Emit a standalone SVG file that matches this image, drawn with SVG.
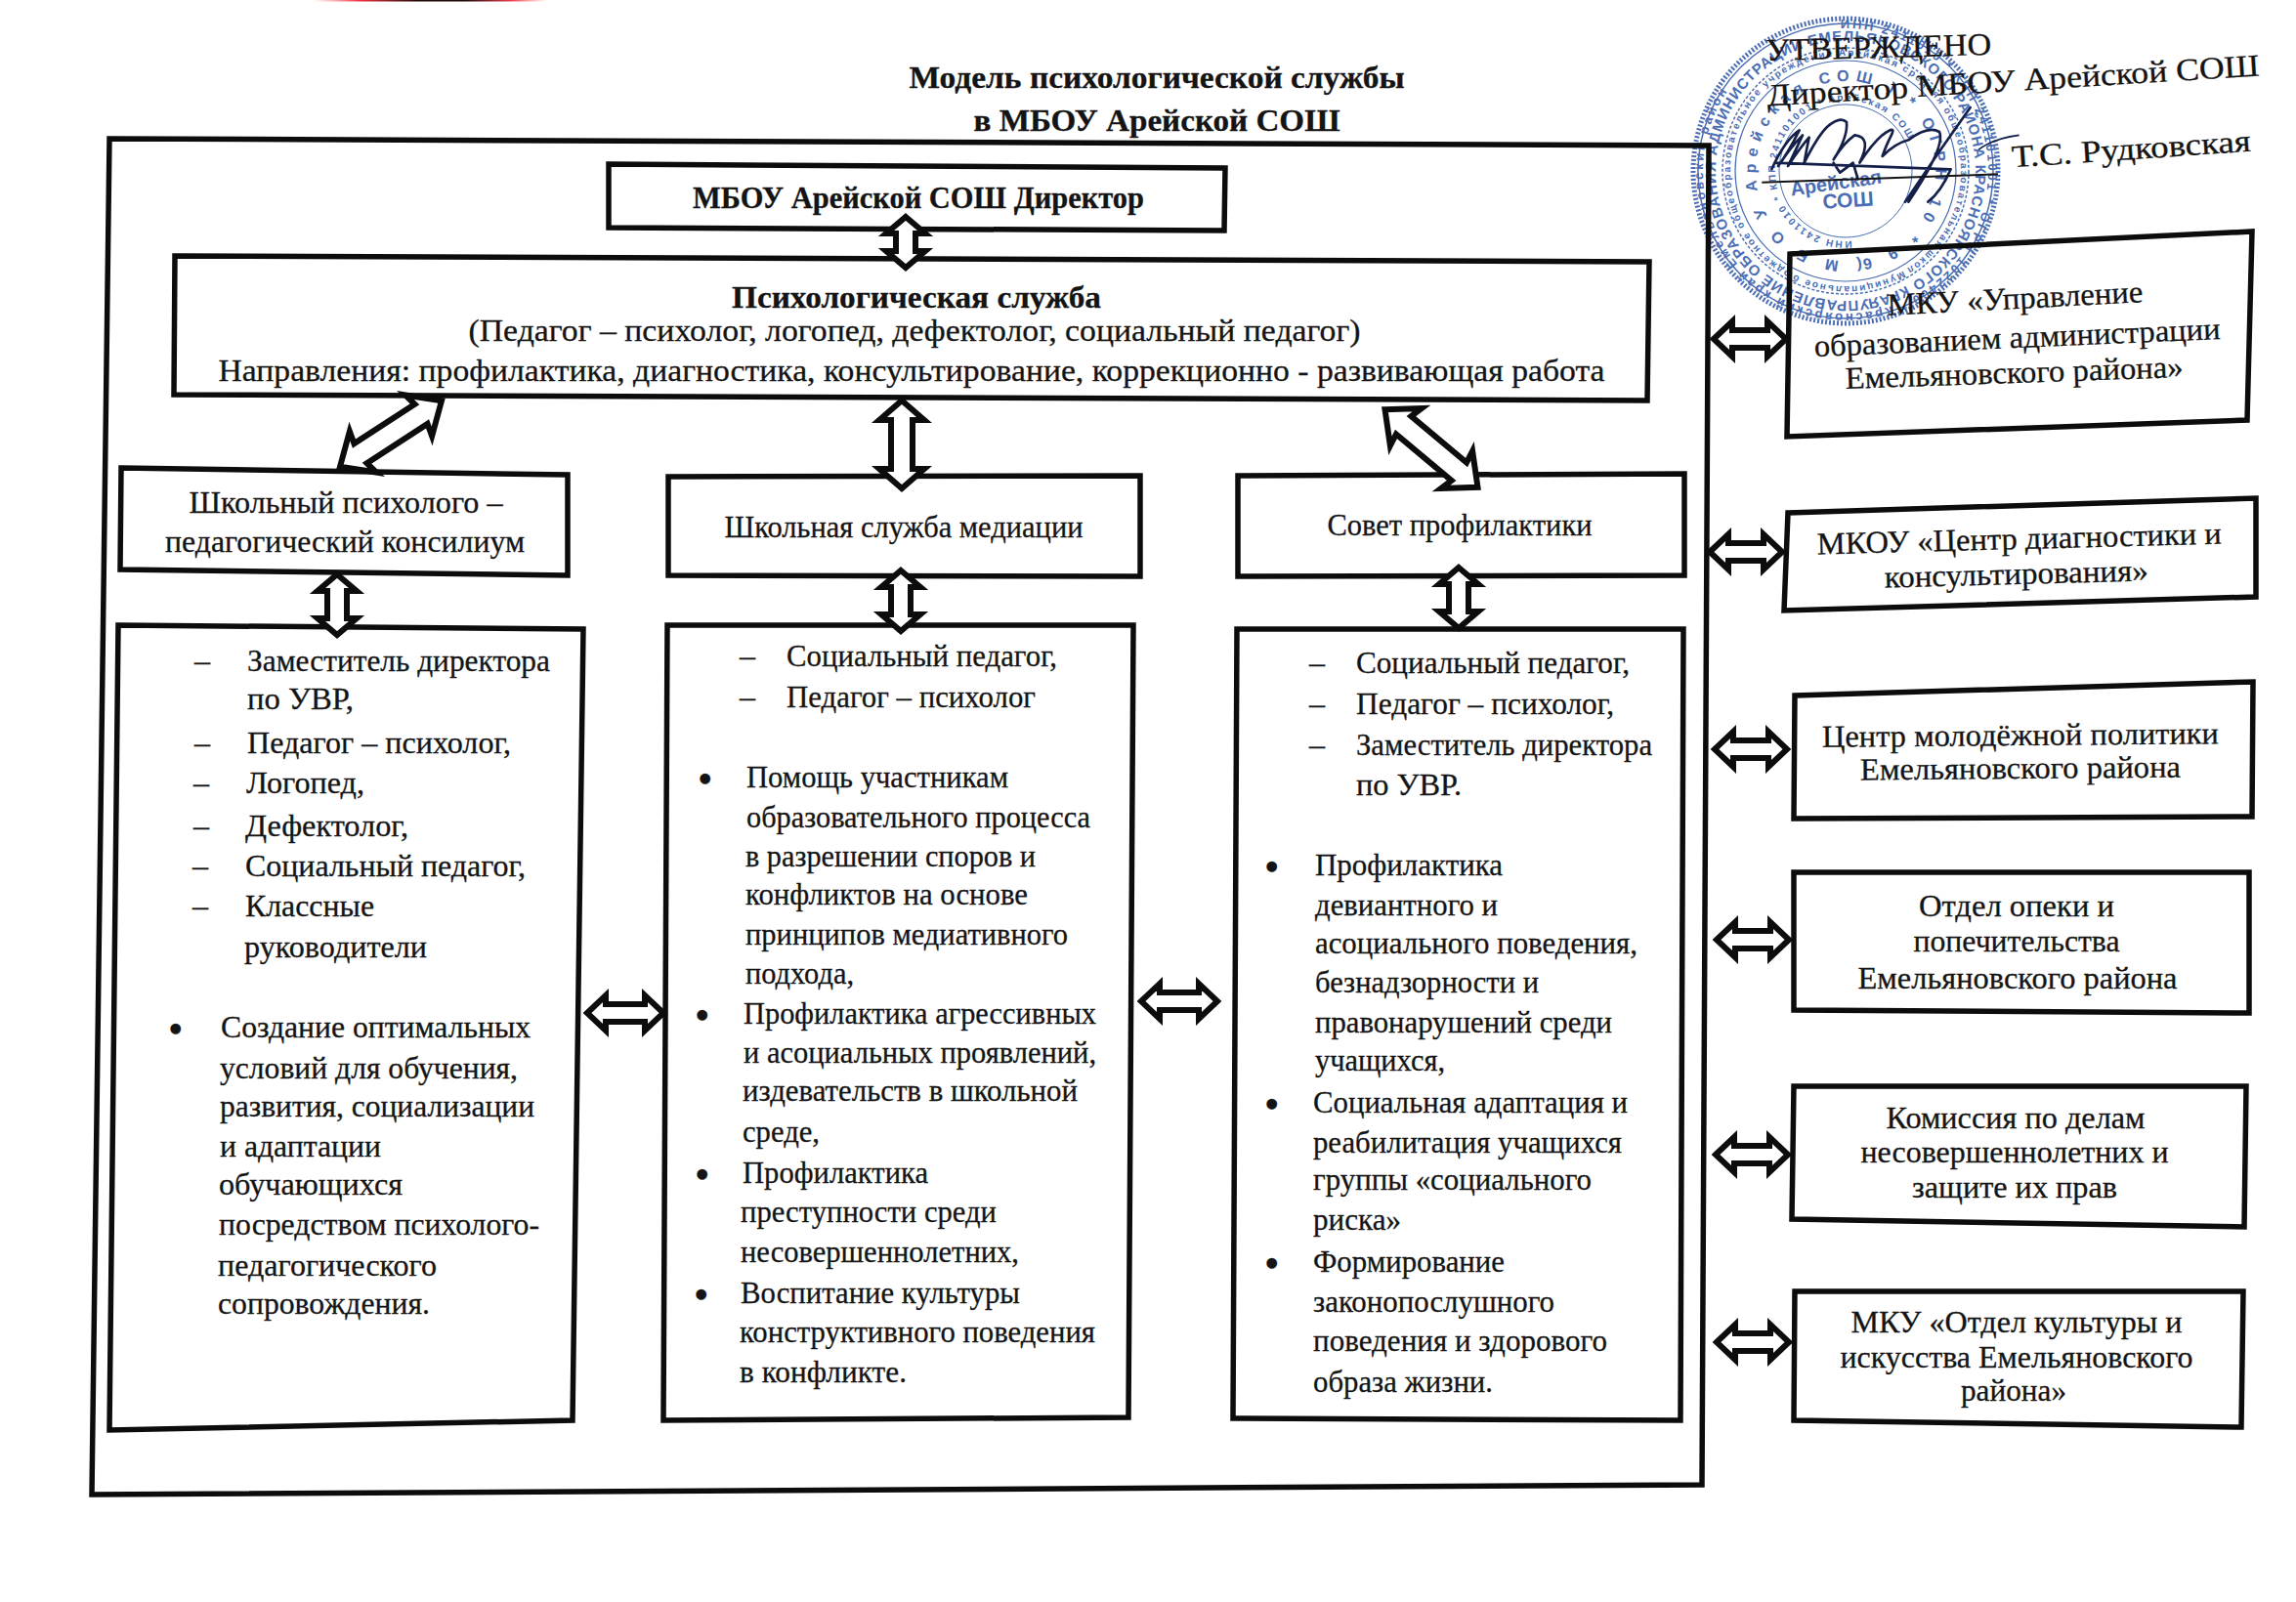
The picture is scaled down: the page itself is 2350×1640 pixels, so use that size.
<svg xmlns="http://www.w3.org/2000/svg" width="2350" height="1640" viewBox="0 0 2350 1640">
<style>
.t{font-family:"Liberation Serif","Times New Roman",serif;font-size:32px;fill:#141414;stroke:#141414;stroke-width:.3}
.bu{font-size:44px}
.b{font-weight:bold}
.m{text-anchor:middle}
.box{fill:none;stroke:#0c0c0c;stroke-width:5.5;stroke-linejoin:miter}
.arr{fill:#fff;stroke:#0c0c0c;stroke-width:6;stroke-linejoin:miter}
.st{font-family:"Liberation Sans",Arial,sans-serif;fill:#4a6db4;font-weight:bold}
.ring{fill:none;stroke:#4a6db4}
.sig{fill:none;stroke:#15204a;stroke-width:8;stroke-linecap:round;stroke-linejoin:round}
</style>
<defs>
<linearGradient id="redmark"><stop offset="0" stop-color="#ff6060" stop-opacity="0"/><stop offset=".2" stop-color="#f03040"/><stop offset=".45" stop-color="#200808"/><stop offset=".65" stop-color="#200808"/><stop offset=".85" stop-color="#f04050"/><stop offset="1" stop-color="#ff6060" stop-opacity="0"/></linearGradient>
<polygon id="a84" class="arr" points="-37,0 -18,-18 -18,-9 18,-9 18,-18 37,0 18,18 18,9 -18,9 -18,18"/>
<polygon id="a89" class="arr" points="-39,0 -20,-18 -20,-9 20,-9 20,-18 39,0 20,18 20,9 -20,9 -20,18"/>
<polygon id="a62" class="arr" points="-26,0 -9,-20 -9,-10 9,-10 9,-20 26,0 9,20 9,10 -9,10 -9,20"/>
<polygon id="a73" class="arr" points="-31,0 -14,-20 -14,-10 14,-10 14,-20 31,0 14,20 14,10 -14,10 -14,20"/>
<polygon id="a100" class="arr" points="-45,0 -25,-23 -25,-11 25,-11 25,-23 45,0 25,23 25,11 -25,11 -25,23"/>
<polygon id="a137" class="arr" points="-62,0 -34,-25 -37,-12 37,-12 34,-25 62,0 34,25 37,12 -37,12 -34,25"/>
<path id="p1" d="M1743,175A146,146 0 1 1 2035,175A146,146 0 1 1 1743,175"/>
<path id="p2" d="M1756,175A133,133 0 1 1 2022,175A133,133 0 1 1 1756,175"/>
<path id="p3" d="M1771,175A118,118 0 1 1 2007,175A118,118 0 1 1 1771,175"/>
<path id="p4" d="M1797,175A92,92 0 1 1 1981,175A92,92 0 1 1 1797,175"/>
<path id="p5" d="M1817,175A72,72 0 1 1 1961,175A72,72 0 1 1 1817,175"/>
</defs>
<rect width="2350" height="1640" fill="#fff"/>
<rect x="320" y="0" width="240" height="1.5" fill="url(#redmark)"/>

<g id="stamp">
<circle class="ring" cx="1889" cy="175" r="156" stroke-width="5" stroke-dasharray="2 2"/>
<circle class="ring" cx="1889" cy="175" r="151" stroke-width="1.5"/>
<circle class="ring" cx="1889" cy="175" r="126" stroke-width="1.5" stroke-dasharray="3 2"/>
<circle class="ring" cx="1889" cy="175" r="113" stroke-width="1.2"/>
<circle class="ring" cx="1889" cy="175" r="68" stroke-width="1"/>
<g transform="rotate(88 1889 175)"><text class="st" font-size="13" letter-spacing="2.5"><textPath href="#p1">ИНН 2411010 * КПП 241101001 * ОГРН 1022400 * Красноярский край Емельяновский район</textPath></text></g>
<g transform="rotate(-100 1889 175)"><text class="st" font-size="15" letter-spacing=".9"><textPath href="#p2">УПРАВЛЕНИЕ ОБРАЗОВАНИЯ АДМИНИСТРАЦИИ ЕМЕЛЬЯНОВСКОГО РАЙОНА КРАСНОЯРСКОГО КРАЯ</textPath></text></g>
<g transform="rotate(-120 1889 175)"><text class="st" font-size="10" letter-spacing="1.9"><textPath href="#p3">Муниципальное бюджетное общеобразовательное учреждение Арейская средняя общеобразовательная школа</textPath></text></g>
<g transform="rotate(-100 1889 175)"><text class="st" font-size="16" letter-spacing="6.5"><textPath href="#p4">( М Б О У Арейская СОШ ) * ОГРН 10 * 9 6 4 1 7 *</textPath></text></g>
<g transform="rotate(-95 1889 175)"><text class="st" font-size="10" letter-spacing="2"><textPath href="#p5">ИНН 2411010 * КПП 241101001 * Арейская СОШ</textPath></text></g>
<text class="st" font-size="20" text-anchor="middle" transform="translate(1880 194) rotate(-8)">Арейская</text>
<text class="st" font-size="21" text-anchor="middle" transform="translate(1892 212) rotate(-4)">СОШ</text>
</g>

<g id="frame"><polygon class="box" points="112,142 1749,149 1742,1520 94,1530"/></g>

<g id="title">
<text class="t b m" x="1184" y="90" textLength="507" lengthAdjust="spacingAndGlyphs">Модель психологической службы</text>
<text class="t b m" x="1184" y="134" textLength="375" lengthAdjust="spacingAndGlyphs">в МБОУ Арейской СОШ</text>
</g>

<g id="approval">
<text class="t m" transform="translate(1923 59) rotate(-1.5)" textLength="231" lengthAdjust="spacingAndGlyphs">УТВЕРЖДЕНО</text>
<text class="t m" transform="translate(2061 93) rotate(-3.5)" textLength="505" lengthAdjust="spacingAndGlyphs">Директор МБОУ Арейской СОШ</text>
<text class="t m" transform="translate(2182 163) rotate(-3.9)" textLength="245" lengthAdjust="spacingAndGlyphs">Т.С. Рудковская</text>
<g transform="translate(1720 10) scale(.3333)">
<path class="sig" d="M280,490Q320,400 365,370Q330,440 300,480Q340,420 375,385Q345,450 330,480Q370,420 395,392Q385,440 380,470Q420,390 450,360Q490,325 510,345Q515,390 470,460Q500,410 535,385Q590,390 550,470Q590,410 620,385Q660,355 650,380Q630,420 620,450Q660,410 700,400Q760,355 795,375Q815,420 700,590M890,300Q790,440 690,590M830,490Q800,560 760,590M470,470L490,500L530,470L545,520M290,470Q550,480 830,490"/>
<path d="M250,530L975,505" stroke="#141414" stroke-width="6" fill="none"/>
<path d="M915,430Q960,395 1040,385" stroke="#15204a" stroke-width="5" fill="none"/>
</g>
</g>

<g id="node-director">
<polygon class="box" points="623,168 1254,172 1253,236 623,233"/>
<text class="t b m" x="940" y="213" textLength="462" lengthAdjust="spacingAndGlyphs">МБОУ Арейской СОШ Директор</text>
</g>
<g id="node-psych">
<polygon class="box" points="179,262 1688,268 1686,410 178,404"/>
<text class="t b m" x="938" y="315" textLength="378" lengthAdjust="spacingAndGlyphs">Психологическая служба</text>
<text class="t m" x="936" y="349" textLength="913" lengthAdjust="spacingAndGlyphs">(Педагог – психолог, логопед, дефектолог, социальный педагог)</text>
<text class="t m" x="933" y="390" textLength="1419" lengthAdjust="spacingAndGlyphs">Направления: профилактика, диагностика, консультирование, коррекционно - развивающая работа</text>
</g>
<g id="node-consilium">
<polygon class="box" points="124,479 581,486 581,589 123,583"/>
<text class="t m" x="354" y="525" textLength="321" lengthAdjust="spacingAndGlyphs">Школьный психолого –</text>
<text class="t m" x="353" y="565" textLength="368" lengthAdjust="spacingAndGlyphs">педагогический консилиум</text>
</g>
<g id="node-mediation">
<polygon class="box" points="684,488 1167,487 1167,590 684,589"/>
<text class="t m" x="925" y="550" textLength="367" lengthAdjust="spacingAndGlyphs">Школьная служба медиации</text>
</g>
<g id="node-council">
<polygon class="box" points="1267,487 1724,485 1724,589 1267,590"/>
<text class="t m" x="1494" y="548" textLength="271" lengthAdjust="spacingAndGlyphs">Совет профилактики</text>
</g>

<g id="node-list1">
<polygon class="box" points="121,640 597,644 586,1454 112,1464"/>
<text class="t" x="199" y="687">–</text><text class="t" x="253" y="687" textLength="310" lengthAdjust="spacingAndGlyphs">Заместитель директора</text>
<text class="t" x="253" y="726" textLength="109" lengthAdjust="spacingAndGlyphs">по УВР,</text>
<text class="t" x="199" y="771">–</text><text class="t" x="253" y="771" textLength="270" lengthAdjust="spacingAndGlyphs">Педагог – психолог,</text>
<text class="t" x="198" y="812">–</text><text class="t" x="252" y="812" textLength="121" lengthAdjust="spacingAndGlyphs">Логопед,</text>
<text class="t" x="198" y="856">–</text><text class="t" x="251" y="856" textLength="167" lengthAdjust="spacingAndGlyphs">Дефектолог,</text>
<text class="t" x="197" y="897">–</text><text class="t" x="251" y="897" textLength="287" lengthAdjust="spacingAndGlyphs">Социальный педагог,</text>
<text class="t" x="197" y="938">–</text><text class="t" x="251" y="938" textLength="132" lengthAdjust="spacingAndGlyphs">Классные</text>
<text class="t" x="250" y="980" textLength="187" lengthAdjust="spacingAndGlyphs">руководители</text>
<text class="t bu" x="172" y="1068">•</text><text class="t" x="226" y="1062" textLength="317" lengthAdjust="spacingAndGlyphs">Создание оптимальных</text>
<text class="t" x="225" y="1104" textLength="305" lengthAdjust="spacingAndGlyphs">условий для обучения,</text>
<text class="t" x="225" y="1143" textLength="322" lengthAdjust="spacingAndGlyphs">развития, социализации</text>
<text class="t" x="225" y="1184" textLength="165" lengthAdjust="spacingAndGlyphs">и адаптации</text>
<text class="t" x="224" y="1223" textLength="188" lengthAdjust="spacingAndGlyphs">обучающихся</text>
<text class="t" x="224" y="1264" textLength="328" lengthAdjust="spacingAndGlyphs">посредством психолого-</text>
<text class="t" x="223" y="1306" textLength="224" lengthAdjust="spacingAndGlyphs">педагогического</text>
<text class="t" x="223" y="1345" textLength="217" lengthAdjust="spacingAndGlyphs">сопровождения.</text>
</g>

<g id="node-list2">
<polygon class="box" points="683,640 1160,640 1155,1451 679,1454"/>
<text class="t" x="757" y="682">–</text><text class="t" x="805" y="682" textLength="277" lengthAdjust="spacingAndGlyphs">Социальный педагог,</text>
<text class="t" x="757" y="724">–</text><text class="t" x="805" y="724" textLength="255" lengthAdjust="spacingAndGlyphs">Педагог – психолог</text>
<text class="t bu" x="714" y="812">•</text><text class="t" x="764" y="806" textLength="268" lengthAdjust="spacingAndGlyphs">Помощь участникам</text>
<text class="t" x="764" y="847" textLength="352" lengthAdjust="spacingAndGlyphs">образовательного процесса</text>
<text class="t" x="763" y="887" textLength="297" lengthAdjust="spacingAndGlyphs">в разрешении споров и</text>
<text class="t" x="763" y="926" textLength="289" lengthAdjust="spacingAndGlyphs">конфликтов на основе</text>
<text class="t" x="763" y="967" textLength="330" lengthAdjust="spacingAndGlyphs">принципов медиативного</text>
<text class="t" x="763" y="1007" textLength="111" lengthAdjust="spacingAndGlyphs">подхода,</text>
<text class="t bu" x="711" y="1054">•</text><text class="t" x="761" y="1048" textLength="361" lengthAdjust="spacingAndGlyphs">Профилактика агрессивных</text>
<text class="t" x="761" y="1088" textLength="361" lengthAdjust="spacingAndGlyphs">и асоциальных проявлений,</text>
<text class="t" x="760" y="1127" textLength="343" lengthAdjust="spacingAndGlyphs">издевательств в школьной</text>
<text class="t" x="760" y="1169" textLength="79" lengthAdjust="spacingAndGlyphs">среде,</text>
<text class="t bu" x="711" y="1217">•</text><text class="t" x="760" y="1211" textLength="190" lengthAdjust="spacingAndGlyphs">Профилактика</text>
<text class="t" x="758" y="1251" textLength="262" lengthAdjust="spacingAndGlyphs">преступности среди</text>
<text class="t" x="758" y="1292" textLength="285" lengthAdjust="spacingAndGlyphs">несовершеннолетних,</text>
<text class="t bu" x="710" y="1340">•</text><text class="t" x="758" y="1334" textLength="286" lengthAdjust="spacingAndGlyphs">Воспитание культуры</text>
<text class="t" x="757" y="1374" textLength="364" lengthAdjust="spacingAndGlyphs">конструктивного поведения</text>
<text class="t" x="757" y="1415" textLength="171" lengthAdjust="spacingAndGlyphs">в конфликте.</text>
</g>

<g id="node-list3">
<polygon class="box" points="1266,644 1723,644 1720,1454 1262,1452"/>
<text class="t" x="1340" y="689">–</text><text class="t" x="1388" y="689" textLength="280" lengthAdjust="spacingAndGlyphs">Социальный педагог,</text>
<text class="t" x="1340" y="731">–</text><text class="t" x="1388" y="731" textLength="264" lengthAdjust="spacingAndGlyphs">Педагог – психолог,</text>
<text class="t" x="1340" y="773">–</text><text class="t" x="1388" y="773" textLength="303" lengthAdjust="spacingAndGlyphs">Заместитель директора</text>
<text class="t" x="1388" y="814" textLength="108" lengthAdjust="spacingAndGlyphs">по УВР.</text>
<text class="t bu" x="1294" y="902">•</text><text class="t" x="1346" y="896" textLength="192" lengthAdjust="spacingAndGlyphs">Профилактика</text>
<text class="t" x="1346" y="937" textLength="187" lengthAdjust="spacingAndGlyphs">девиантного и</text>
<text class="t" x="1346" y="976" textLength="330" lengthAdjust="spacingAndGlyphs">асоциального поведения,</text>
<text class="t" x="1346" y="1016" textLength="229" lengthAdjust="spacingAndGlyphs">безнадзорности и</text>
<text class="t" x="1346" y="1057" textLength="304" lengthAdjust="spacingAndGlyphs">правонарушений среди</text>
<text class="t" x="1346" y="1096" textLength="133" lengthAdjust="spacingAndGlyphs">учащихся,</text>
<text class="t bu" x="1294" y="1145">•</text><text class="t" x="1344" y="1139" textLength="322" lengthAdjust="spacingAndGlyphs">Социальная адаптация и</text>
<text class="t" x="1344" y="1180" textLength="316" lengthAdjust="spacingAndGlyphs">реабилитация учащихся</text>
<text class="t" x="1344" y="1218" textLength="285" lengthAdjust="spacingAndGlyphs">группы «социального</text>
<text class="t" x="1344" y="1259" textLength="90" lengthAdjust="spacingAndGlyphs">риска»</text>
<text class="t bu" x="1294" y="1308">•</text><text class="t" x="1344" y="1302" textLength="196" lengthAdjust="spacingAndGlyphs">Формирование</text>
<text class="t" x="1344" y="1343" textLength="247" lengthAdjust="spacingAndGlyphs">законопослушного</text>
<text class="t" x="1344" y="1383" textLength="301" lengthAdjust="spacingAndGlyphs">поведения и здорового</text>
<text class="t" x="1344" y="1425" textLength="184" lengthAdjust="spacingAndGlyphs">образа жизни.</text>
</g>

<g id="node-ext1">
<polygon class="box" points="1832,260 2305,237 2300,430 1829,447"/>
<text class="t m" transform="translate(2063 316) rotate(-3)" textLength="262" lengthAdjust="spacingAndGlyphs">МКУ «Управление</text>
<text class="t m" transform="translate(2065 356) rotate(-2.5)" textLength="416" lengthAdjust="spacingAndGlyphs">образованием администрации</text>
<text class="t m" transform="translate(2062 392) rotate(-2)" textLength="346" lengthAdjust="spacingAndGlyphs">Емельяновского района»</text>
</g>
<g id="node-ext2">
<polygon class="box" points="1830,525 2309,510 2309,611 1826,625"/>
<text class="t m" transform="translate(2067 562) rotate(-1.5)" textLength="414" lengthAdjust="spacingAndGlyphs">МКОУ «Центр диагностики и</text>
<text class="t m" transform="translate(2064 598) rotate(-1.5)" textLength="270" lengthAdjust="spacingAndGlyphs">консультирования»</text>
</g>
<g id="node-ext3">
<polygon class="box" points="1837,712 2306,698 2305,836 1836,838"/>
<text class="t m" transform="translate(2068 763) rotate(-.5)" textLength="406" lengthAdjust="spacingAndGlyphs">Центр молодёжной политики</text>
<text class="t m" transform="translate(2068 797) rotate(-.5)" textLength="328" lengthAdjust="spacingAndGlyphs">Емельяновского района</text>
</g>
<g id="node-ext4">
<polygon class="box" points="1836,893 2302,893 2302,1037 1836,1034"/>
<text class="t m" x="2064" y="938" textLength="200" lengthAdjust="spacingAndGlyphs">Отдел опеки и</text>
<text class="t m" x="2064" y="974" textLength="211" lengthAdjust="spacingAndGlyphs">попечительства</text>
<text class="t m" x="2065" y="1012" textLength="327" lengthAdjust="spacingAndGlyphs">Емельяновского района</text>
</g>
<g id="node-ext5">
<polygon class="box" points="1836,1112 2299,1112 2297,1256 1834,1248"/>
<text class="t m" x="2063" y="1155" textLength="265" lengthAdjust="spacingAndGlyphs">Комиссия по делам</text>
<text class="t m" x="2062" y="1190" textLength="315" lengthAdjust="spacingAndGlyphs">несовершеннолетних и</text>
<text class="t m" x="2062" y="1226" textLength="210" lengthAdjust="spacingAndGlyphs">защите их прав</text>
</g>
<g id="node-ext6">
<polygon class="box" points="1837,1322 2296,1322 2294,1461 1836,1454"/>
<text class="t m" x="2064" y="1364" textLength="339" lengthAdjust="spacingAndGlyphs">МКУ «Отдел культуры и</text>
<text class="t m" x="2064" y="1400" textLength="361" lengthAdjust="spacingAndGlyphs">искусства Емельяновского</text>
<text class="t m" x="2061" y="1434" textLength="108" lengthAdjust="spacingAndGlyphs">района»</text>
</g>

<g id="connectors">
<use href="#a62" transform="translate(927 248) rotate(90)"/>
<use href="#a137" transform="translate(400 444) rotate(-33)"/>
<use href="#a100" transform="translate(923 455) rotate(90)"/>
<use href="#a137" transform="translate(1465 459) rotate(40)"/>
<use href="#a73" transform="translate(345 619) rotate(90)"/>
<use href="#a73" transform="translate(922 615) rotate(90)"/>
<use href="#a73" transform="translate(1493 612) rotate(90)"/>
<use href="#a89" transform="translate(640 1037)"/>
<use href="#a89" transform="translate(1207 1025)"/>
<use href="#a84" transform="translate(1791 347)"/>
<use href="#a84" transform="translate(1787 565)"/>
<use href="#a84" transform="translate(1792 767)"/>
<use href="#a84" transform="translate(1794 962)"/>
<use href="#a84" transform="translate(1793 1182)"/>
<use href="#a84" transform="translate(1794 1374)"/>
</g>
</svg>
